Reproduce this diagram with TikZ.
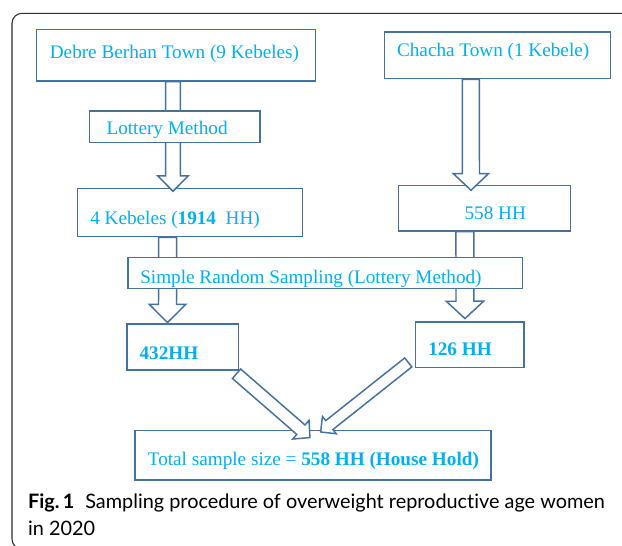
\documentclass[tikz,border=0pt]{standalone}
\usepackage{fontspec}
\setmainfont{Liberation Serif}
\newfontfamily\capfont[Ligatures=NoCommon]{Lato}
\usetikzlibrary{calc}
\definecolor{boxline}{RGB}{68,114,160}
\definecolor{txtblue}{RGB}{0,176,240}
\definecolor{framegray}{RGB}{45,45,45}
\tikzset{
  boxst/.style={draw=boxline, line width=1.1pt, fill=white, inner sep=0pt},
  arrst/.style={draw=boxline, line width=1.1pt, fill=white, line join=miter},
  lbl/.style={text=txtblue, inner sep=0pt, anchor=base west, font=\fontsize{14.4}{17}\selectfont},
  capst/.style={inner sep=0pt, anchor=base west, font=\capfont\fontsize{14.9}{20}\selectfont},
  framest/.style={draw=framegray, line width=0.8pt, rounded corners=7.5pt},
}
\newcommand\bx[5]{\node[boxst, minimum width={(#4-#2)*0.75pt}, minimum height={(#5-#3)*0.75pt}] (#1) at ({(#2+#4)/2},{(#3+#5)/2}) {};}
\newcommand\blockarrow[5]{%
  \path #1 coordinate (ba-s) #2 coordinate (ba-e);
  \path ($(ba-e)!#5!(ba-s)$) coordinate (ba-h);
  \draw[arrst] ($(ba-s)!#3!90:(ba-e)$) -- ($(ba-h)!#3!-90:(ba-s)$) -- ($(ba-h)!#4!-90:(ba-s)$) -- (ba-e) -- ($(ba-h)!#4!90:(ba-s)$) -- ($(ba-h)!#3!90:(ba-s)$) -- ($(ba-s)!#3!-90:(ba-e)$) -- cycle;
}
\begin{document}
\begin{tikzpicture}[x=0.75pt, y=-0.75pt]
\useasboundingbox (0,0) rectangle (622,546);
\clip (0,0) rectangle (622,546);
\fill[white] (0,0) rectangle (622,546);
\draw[framest] (12,13.3) rectangle (700,549);
% boxes
\bx{debre}{36.5}{29.3}{315.5}{81}
\bx{chacha}{384.5}{32}{610.3}{78.7}
\bx{kebA}{77.4}{188.7}{302.4}{236.7}
\bx{hh558}{398.4}{185.3}{570.6}{230.9}
\bx{b432}{127}{324}{238.3}{370}
\bx{b126}{415.5}{322}{523.8}{367.3}
\bx{total}{135}{430.7}{490.9}{480}
% block arrows
\blockarrow{($(debre.south)+(-3,0)$)}{($(kebA.north)+(-16.9,3.3)$)}{5.6pt}{11.4pt}{11.5pt}
\blockarrow{($(chacha.south)+(-26.6,0)$)}{($(hh558.north)+(-13.5,5.7)$)}{6.4pt}{13.2pt}{12.5pt}
\blockarrow{($(kebA.south)+(-22.2,0)$)}{($(b432.north)+(-15.2,-0.7)$)}{6.75pt}{13.7pt}{13.7pt}
\blockarrow{($(hh558.south)+(-19.6,0)$)}{($(b126.north)+(-4.7,-2.7)$)}{6.7pt}{14pt}{13pt}
\blockarrow{($(b432.south east)+(-2.5,3)$)}{($(total.north)+(-3,7.6)$)}{4.7pt}{9.3pt}{9pt}
\blockarrow{($(b126.south west)+(-6.5,-5.6)$)}{($(total.north)+(7.7,2)$)}{4.3pt}{8.3pt}{8.3pt}
% boxes laid over the arrows
\bx{lot}{89.3}{111}{260}{142.3}
\bx{srs}{127.8}{257.3}{522.5}{288.5}
% texts
\node[lbl] (tdebre) at (49.6,58) {Debre Berhan Town (9 Kebeles)};
\node[lbl] (tchacha) at (396.8,56.3) {Chacha Town (1 Kebele)};
\node[lbl] (tlot) at (106.3,134.6) {Lottery Method};
\node[lbl] (tkeb) at (90,224) {4 Kebeles (\textbf{1914}\ \ HH)};
\node[lbl] (t558) at (464.3,219) {558 HH};
\node[lbl] (tsrs) at (140,283) {Simple Random Sampling (Lottery Method)};
\node[lbl] (t432) at (139.3,359) {\textbf{432HH}};
\node[lbl] (t126) at (428,355.6) {\textbf{126 HH}};
\node[lbl] (ttot) at (147.6,465) {Total sample size = \textbf{558 HH (House Hold)}};
% caption
\node[capst] (cap1) at (27.8,508.3) {\textbf{Fig.\,1}\hspace{0.55em}Sampling procedure of overweight reproductive age women};
\node[capst] (cap2) at (27.8,535) {in 2020};
\end{tikzpicture}
\end{document}
